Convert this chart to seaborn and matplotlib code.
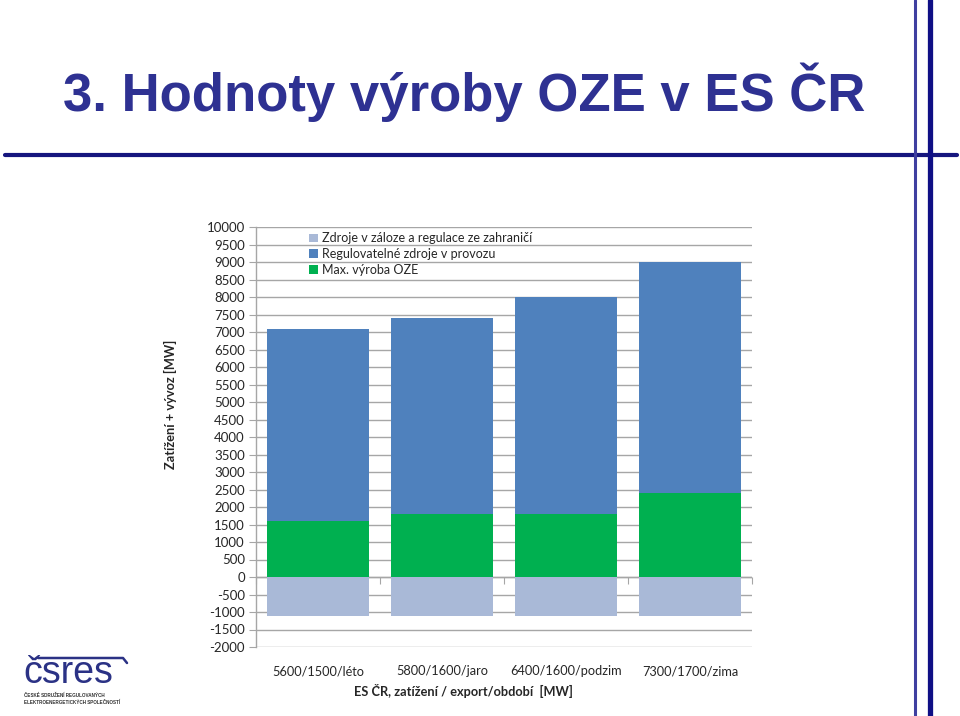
import matplotlib
matplotlib.use("Agg")
import matplotlib.pyplot as plt
import seaborn as sns
import pandas as pd
import numpy as np
from matplotlib.patches import Patch
from matplotlib.lines import Line2D

# ---- data ----
categories = ["5600/1500/léto", "5800/1600/jaro", "6400/1600/podzim", "7300/1700/zima"]
reserve = [-1100, -1100, -1100, -1100]          # Zdroje v záloze a regulace ze zahraničí
regulated = [5500, 5600, 6200, 6600]            # Regulovatelné zdroje v provozu
oze = [1600, 1800, 1800, 2400]                  # Max. výroba OZE
y_ticks = list(range(-2000, 10001, 500))

series_names = ["Zdroje v záloze a regulace ze zahraničí",
                "Regulovatelné zdroje v provozu",
                "Max. výroba OZE"]
colors = ["#A9B9D7", "#4F81BD", "#00B050"]

df = pd.DataFrame({"cat": categories, "reserve": reserve,
                   "regulated": regulated, "oze": oze})
df["total"] = df["regulated"] + df["oze"]

sns.set_style("white")
plt.rcParams["font.family"] = ["Lato", "DejaVu Sans"]

fig = plt.figure(figsize=(9.6, 7.16), dpi=100)
ax = fig.add_axes([256/960, 1-647/716, (752-256)/960, (647-227)/716])

bw = 0.83
sns.barplot(data=df, x="cat", y="total", color=colors[1], width=bw,
            saturation=1, ax=ax, linewidth=0, zorder=3)
sns.barplot(data=df, x="cat", y="oze", color=colors[2], width=bw,
            saturation=1, ax=ax, linewidth=0, zorder=3)
sns.barplot(data=df, x="cat", y="reserve", color=colors[0], width=bw,
            saturation=1, ax=ax, linewidth=0, zorder=3)

ax.set_xlim(-0.5, len(categories) - 0.5)
ax.set_ylim(-2000, 10000)
ax.set_yticks(y_ticks)
ax.set_yticklabels([str(v) for v in y_ticks], fontsize=9.5)
ax.yaxis.grid(True, color="#A6A6A6", linewidth=1, zorder=0)
ax.xaxis.grid(False)
for s in ["top", "right", "bottom"]:
    ax.spines[s].set_visible(False)
ax.spines["left"].set_color("#A6A6A6")
ax.spines["left"].set_linewidth(1)
ax.tick_params(axis="y", left=True, length=5, color="#A6A6A6", pad=3)
ax.tick_params(axis="x", bottom=False, length=0, pad=13, labelsize=9.2)
ax.set_xlabel("")
ax.set_ylabel("")

# x axis line at zero with category-boundary ticks
ax.axhline(0, color="#A6A6A6", linewidth=1, zorder=2)
sec = ax.secondary_xaxis((0 - (-2000)) / 12000)
sec.set_xticks(np.arange(-0.5, len(categories), 1.0))
sec.set_xticklabels([])
sec.tick_params(length=5, color="#A6A6A6", direction="out")
sec.spines["bottom"].set_visible(False)

# legend
handles = [Patch(facecolor=c, edgecolor="none") for c in colors]
ax.legend(handles, series_names, loc="upper left", bbox_to_anchor=(0.092, 1.005),
          frameon=False, fontsize=9, handlelength=0.7, handleheight=0.7,
          handletextpad=0.35, labelspacing=0.3, borderaxespad=0.2)

# axis titles
fig.text(170/960, 1-404/716, "Zatížení + vývoz [MW]", rotation=90,
         ha="center", va="center", fontsize=9.2, fontweight="bold")
fig.text(463/960, 1-691/716, "ES ČR, zatížení / export/období  [MW]",
         ha="center", va="center", fontsize=9.2, fontweight="bold")

# title and decoration
navy = "#2E3192"
fig.text(464/960, 1-92/716, "3. Hodnoty výroby OZE v ES ČR",
         ha="center", va="center", fontsize=38, fontweight="bold",
         color=navy, family="Liberation Sans")
fig.add_artist(Line2D([5/960, 957/960], [1-155/716, 1-155/716],
                      color="#16167E", linewidth=3, transform=fig.transFigure))
fig.add_artist(Line2D([915/960, 915/960], [0, 1], color="#3F3FA0",
                      linewidth=2.2, transform=fig.transFigure))
fig.add_artist(Line2D([930/960, 930/960], [0, 1], color="#0F0F85",
                      linewidth=3.8, transform=fig.transFigure))

# logo
fig.text(23/960, 1-683/716, "čsres", ha="left", va="baseline", fontsize=27,
         color="#2B3285", family="Liberation Sans")
fig.add_artist(Line2D([38/960, 123/960, 127/960], [1-658/716, 1-658/716, 1-663/716],
                      color="#2B3285", linewidth=1.8, transform=fig.transFigure))
fig.text(24/960, 1-695/716, "ČESKÉ SDRUŽENÍ REGULOVANÝCH", ha="left", va="center",
         fontsize=3.3, fontweight="bold", color="#333333", family="Liberation Sans")
fig.text(24/960, 1-702/716, "ELEKTROENERGETICKÝCH SPOLEČNOSTÍ", ha="left", va="center",
         fontsize=3.3, fontweight="bold", color="#333333", family="Liberation Sans")

fig.savefig("out.png", dpi=100, facecolor="white")
